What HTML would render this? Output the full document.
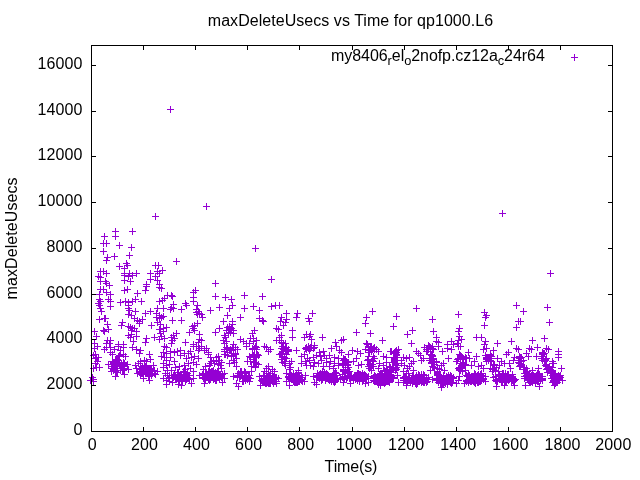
<!DOCTYPE html>
<html><head><meta charset="utf-8"><title>maxDeleteUsecs vs Time</title>
<style>
html,body{margin:0;padding:0;background:#fff;}
body{width:640px;height:480px;overflow:hidden;}
svg{display:block;will-change:transform;}
text{font-family:"Liberation Sans",sans-serif;font-size:16px;fill:#000;}
</style></head><body>
<svg width="640" height="480" viewBox="0 0 640 480">
<rect width="640" height="480" fill="#fff"/>
<path d="M167.0 109.5h7M170.5 106.0v7M152.0 216.5h7M155.5 213.0v7M173.0 261.5h7M176.5 258.0v7M112.0 231.5h7M115.5 228.0v7M129.0 231.5h7M132.5 228.0v7M101.0 236.5h7M104.5 233.0v7M112.0 236.5h7M115.5 233.0v7M100.0 243.5h7M103.5 240.0v7M103.0 243.5h7M106.5 240.0v7M116.0 245.5h7M119.5 242.0v7M128.0 247.5h7M131.5 244.0v7M100.0 251.5h7M103.5 248.0v7M126.0 255.5h7M129.5 252.0v7M111.0 256.5h7M114.5 253.0v7M104.0 257.5h7M107.5 254.0v7M103.0 260.5h7M106.5 257.0v7M123.0 263.5h7M126.5 260.0v7M124.0 265.5h7M127.5 262.0v7M116.0 266.5h7M119.5 263.0v7M152.0 265.5h7M155.5 262.0v7M155.0 265.5h7M158.5 262.0v7M121.0 268.5h7M124.5 265.0v7M159.0 270.5h7M162.5 267.0v7M97.0 271.5h7M100.5 268.0v7M100.0 271.5h7M103.5 268.0v7M103.0 273.5h7M106.5 270.0v7M154.0 271.5h7M157.5 268.0v7M156.0 273.5h7M159.5 270.0v7M126.0 273.5h7M129.5 270.0v7M133.0 273.5h7M136.5 270.0v7M121.0 273.5h7M124.5 270.0v7M147.0 273.5h7M150.5 270.0v7M121.0 275.5h7M124.5 272.0v7M129.0 275.5h7M132.5 272.0v7M125.0 276.5h7M128.5 273.0v7M95.0 276.5h7M98.5 273.0v7M97.0 277.5h7M100.5 274.0v7M152.0 276.5h7M155.5 273.0v7M147.0 279.5h7M150.5 276.0v7M154.0 280.5h7M157.5 277.0v7M121.0 280.5h7M124.5 277.0v7M127.0 281.5h7M130.5 278.0v7M97.0 281.5h7M100.5 278.0v7M102.0 281.5h7M105.5 278.0v7M103.0 283.5h7M106.5 280.0v7M143.0 284.5h7M146.5 281.0v7M156.0 284.5h7M159.5 281.0v7M203.0 206.5h7M206.5 203.0v7M252.0 248.5h7M255.5 245.0v7M268.0 279.5h7M271.5 276.0v7M499.0 213.5h7M502.5 210.0v7M547.0 273.5h7M550.5 270.0v7M97.0 289.5h7M100.5 286.0v7M100.0 289.5h7M103.5 286.0v7M106.0 285.5h7M109.5 282.0v7M103.0 292.5h7M106.5 289.0v7M107.0 294.5h7M110.5 291.0v7M121.0 290.5h7M124.5 287.0v7M124.0 289.5h7M127.5 286.0v7M134.0 293.5h7M137.5 290.0v7M143.0 286.5h7M146.5 283.0v7M142.0 290.5h7M145.5 287.0v7M156.0 287.5h7M159.5 284.0v7M158.0 288.5h7M161.5 285.0v7M96.0 294.5h7M99.5 291.0v7M96.0 299.5h7M99.5 296.0v7M97.0 301.5h7M100.5 298.0v7M95.0 303.5h7M98.5 300.0v7M96.0 305.5h7M99.5 302.0v7M97.0 308.5h7M100.5 305.0v7M98.0 311.5h7M101.5 308.0v7M107.0 301.5h7M110.5 298.0v7M107.0 306.5h7M110.5 303.0v7M105.0 299.5h7M108.5 296.0v7M117.0 302.5h7M120.5 299.0v7M122.0 301.5h7M125.5 298.0v7M125.0 302.5h7M128.5 299.0v7M129.0 301.5h7M132.5 298.0v7M132.0 299.5h7M135.5 296.0v7M125.0 305.5h7M128.5 302.0v7M125.0 308.5h7M128.5 305.0v7M126.0 310.5h7M129.5 307.0v7M125.0 314.5h7M128.5 311.0v7M128.0 315.5h7M131.5 312.0v7M138.0 301.5h7M141.5 298.0v7M132.0 311.5h7M135.5 308.0v7M142.0 313.5h7M145.5 310.0v7M147.0 311.5h7M150.5 308.0v7M156.0 301.5h7M159.5 298.0v7M159.0 300.5h7M162.5 297.0v7M161.0 298.5h7M164.5 295.0v7M154.0 308.5h7M157.5 305.0v7M160.0 308.5h7M163.5 305.0v7M153.0 313.5h7M156.5 310.0v7M156.0 315.5h7M159.5 312.0v7M158.0 317.5h7M161.5 314.0v7M153.0 317.5h7M156.5 314.0v7M156.0 318.5h7M159.5 315.0v7M160.0 316.5h7M163.5 313.0v7M96.0 319.5h7M99.5 316.0v7M101.0 318.5h7M104.5 315.0v7M102.0 318.5h7M105.5 315.0v7M104.0 324.5h7M107.5 321.0v7M100.0 330.5h7M103.5 327.0v7M101.0 331.5h7M104.5 328.0v7M105.0 329.5h7M108.5 326.0v7M91.0 331.5h7M94.5 328.0v7M119.0 322.5h7M122.5 319.0v7M118.0 325.5h7M121.5 322.0v7M131.0 318.5h7M134.5 315.0v7M134.0 320.5h7M137.5 317.0v7M136.0 321.5h7M139.5 318.0v7M139.0 319.5h7M142.5 316.0v7M136.0 323.5h7M139.5 320.0v7M127.0 327.5h7M130.5 324.0v7M129.0 328.5h7M132.5 325.0v7M128.0 330.5h7M131.5 327.0v7M131.0 328.5h7M134.5 325.0v7M125.0 326.5h7M128.5 323.0v7M148.0 325.5h7M151.5 322.0v7M154.0 322.5h7M157.5 319.0v7M157.0 324.5h7M160.5 321.0v7M156.0 329.5h7M159.5 326.0v7M160.0 328.5h7M163.5 325.0v7M163.0 327.5h7M166.5 324.0v7M93.0 336.5h7M96.5 333.0v7M91.0 343.5h7M94.5 340.0v7M104.0 340.5h7M107.5 337.0v7M107.0 340.5h7M110.5 337.0v7M103.0 343.5h7M106.5 340.0v7M106.0 343.5h7M109.5 340.0v7M125.0 335.5h7M128.5 332.0v7M128.0 334.5h7M131.5 331.0v7M127.0 337.5h7M130.5 334.0v7M133.0 331.5h7M136.5 328.0v7M133.0 336.5h7M136.5 333.0v7M130.0 341.5h7M133.5 338.0v7M143.0 338.5h7M146.5 335.0v7M142.0 342.5h7M145.5 339.0v7M151.0 337.5h7M154.5 334.0v7M157.0 333.5h7M160.5 330.0v7M160.0 331.5h7M163.5 328.0v7M158.0 336.5h7M161.5 333.0v7M156.0 339.5h7M159.5 336.0v7M161.0 338.5h7M164.5 335.0v7M120.0 344.5h7M123.5 341.0v7M115.0 344.5h7M118.5 341.0v7M164.0 295.5h7M167.5 292.0v7M212.0 283.5h7M215.5 280.0v7M192.0 290.5h7M195.5 287.0v7M190.0 292.5h7M193.5 289.0v7M190.0 297.5h7M193.5 294.0v7M190.0 301.5h7M193.5 298.0v7M168.0 295.5h7M171.5 292.0v7M169.0 296.5h7M172.5 293.0v7M212.0 296.5h7M215.5 293.0v7M222.0 297.5h7M225.5 294.0v7M228.0 299.5h7M231.5 296.0v7M241.0 295.5h7M244.5 292.0v7M182.0 303.5h7M185.5 300.0v7M183.0 305.5h7M186.5 302.0v7M170.0 304.5h7M173.5 301.0v7M168.0 307.5h7M171.5 304.0v7M170.0 308.5h7M173.5 305.0v7M167.0 309.5h7M170.5 306.0v7M178.0 309.5h7M181.5 306.0v7M194.0 305.5h7M197.5 302.0v7M193.0 309.5h7M196.5 306.0v7M195.0 311.5h7M198.5 308.0v7M196.0 313.5h7M199.5 310.0v7M194.0 314.5h7M197.5 311.0v7M198.0 314.5h7M201.5 311.0v7M193.0 312.5h7M196.5 309.0v7M199.0 317.5h7M202.5 314.0v7M207.0 310.5h7M210.5 307.0v7M216.0 307.5h7M219.5 304.0v7M226.0 308.5h7M229.5 305.0v7M229.0 305.5h7M232.5 302.0v7M241.0 308.5h7M244.5 305.0v7M224.0 315.5h7M227.5 312.0v7M237.0 317.5h7M240.5 314.0v7M169.0 320.5h7M172.5 317.0v7M178.0 320.5h7M181.5 317.0v7M220.0 321.5h7M223.5 318.0v7M229.0 321.5h7M232.5 318.0v7M229.0 324.5h7M232.5 321.0v7M194.0 323.5h7M197.5 320.0v7M191.0 325.5h7M194.5 322.0v7M189.0 326.5h7M192.5 323.0v7M190.0 328.5h7M193.5 325.0v7M191.0 330.5h7M194.5 327.0v7M186.0 332.5h7M189.5 329.0v7M196.0 334.5h7M199.5 331.0v7M216.0 328.5h7M219.5 325.0v7M212.0 332.5h7M215.5 329.0v7M224.0 327.5h7M227.5 324.0v7M226.0 326.5h7M229.5 323.0v7M228.0 328.5h7M231.5 325.0v7M226.0 329.5h7M229.5 326.0v7M223.0 330.5h7M226.5 327.0v7M230.0 330.5h7M233.5 327.0v7M227.0 332.5h7M230.5 329.0v7M225.0 333.5h7M228.5 330.0v7M230.0 333.5h7M233.5 330.0v7M221.0 335.5h7M224.5 332.0v7M222.0 337.5h7M225.5 334.0v7M220.0 340.5h7M223.5 337.0v7M223.0 341.5h7M226.5 338.0v7M221.0 343.5h7M224.5 340.0v7M173.0 333.5h7M176.5 330.0v7M170.0 335.5h7M173.5 332.0v7M168.0 337.5h7M171.5 334.0v7M171.0 338.5h7M174.5 335.0v7M169.0 340.5h7M172.5 337.0v7M168.0 343.5h7M171.5 340.0v7M182.0 342.5h7M185.5 339.0v7M196.0 339.5h7M199.5 336.0v7M198.0 340.5h7M201.5 337.0v7M195.0 342.5h7M198.5 339.0v7M237.0 339.5h7M240.5 336.0v7M240.0 341.5h7M243.5 338.0v7M243.0 343.5h7M246.5 340.0v7M230.0 344.5h7M233.5 341.0v7M190.0 344.5h7M193.5 341.0v7M259.0 296.5h7M262.5 293.0v7M250.0 306.5h7M253.5 303.0v7M256.0 310.5h7M259.5 307.0v7M268.0 306.5h7M271.5 303.0v7M272.0 305.5h7M275.5 302.0v7M276.0 305.5h7M279.5 302.0v7M283.0 313.5h7M286.5 310.0v7M294.0 313.5h7M297.5 310.0v7M293.0 317.5h7M296.5 314.0v7M309.0 313.5h7M312.5 310.0v7M256.0 318.5h7M259.5 315.0v7M259.0 320.5h7M262.5 317.0v7M260.0 321.5h7M263.5 318.0v7M278.0 317.5h7M281.5 314.0v7M283.0 319.5h7M286.5 316.0v7M277.0 321.5h7M280.5 318.0v7M282.0 322.5h7M285.5 319.0v7M280.0 325.5h7M283.5 322.0v7M305.0 318.5h7M308.5 315.0v7M306.0 321.5h7M309.5 318.0v7M273.0 328.5h7M276.5 325.0v7M275.0 329.5h7M278.5 326.0v7M289.0 330.5h7M292.5 327.0v7M289.0 337.5h7M292.5 334.0v7M251.0 330.5h7M254.5 327.0v7M249.0 333.5h7M252.5 330.0v7M247.0 338.5h7M250.5 335.0v7M250.0 338.5h7M253.5 335.0v7M253.0 340.5h7M256.5 337.0v7M250.0 341.5h7M253.5 338.0v7M246.0 343.5h7M249.5 340.0v7M278.0 335.5h7M281.5 332.0v7M276.0 337.5h7M279.5 334.0v7M273.0 340.5h7M276.5 337.0v7M276.0 340.5h7M279.5 337.0v7M278.0 342.5h7M281.5 339.0v7M280.0 343.5h7M283.5 340.0v7M282.0 343.5h7M285.5 340.0v7M303.0 334.5h7M306.5 331.0v7M307.0 334.5h7M310.5 331.0v7M301.0 337.5h7M304.5 334.0v7M306.0 336.5h7M309.5 333.0v7M308.0 339.5h7M311.5 336.0v7M319.0 337.5h7M322.5 334.0v7M369.0 311.5h7M372.5 308.0v7M363.0 317.5h7M366.5 314.0v7M362.0 323.5h7M365.5 320.0v7M393.0 316.5h7M396.5 313.0v7M390.0 326.5h7M393.5 323.0v7M353.0 332.5h7M356.5 329.0v7M367.0 333.5h7M370.5 330.0v7M404.0 334.5h7M407.5 331.0v7M379.0 340.5h7M382.5 337.0v7M340.0 339.5h7M343.5 336.0v7M338.0 340.5h7M341.5 337.0v7M332.0 342.5h7M335.5 339.0v7M363.0 343.5h7M366.5 340.0v7M364.0 344.5h7M367.5 341.0v7M413.0 308.5h7M416.5 305.0v7M429.0 319.5h7M432.5 316.0v7M455.0 314.5h7M458.5 311.0v7M481.0 312.5h7M484.5 309.0v7M483.0 315.5h7M486.5 312.0v7M482.0 317.5h7M485.5 314.0v7M481.0 325.5h7M484.5 322.0v7M409.0 330.5h7M412.5 327.0v7M430.0 331.5h7M433.5 328.0v7M456.0 328.5h7M459.5 325.0v7M455.0 331.5h7M458.5 328.0v7M433.0 337.5h7M436.5 334.0v7M433.0 341.5h7M436.5 338.0v7M435.0 342.5h7M438.5 339.0v7M456.0 336.5h7M459.5 333.0v7M458.0 339.5h7M461.5 336.0v7M455.0 340.5h7M458.5 337.0v7M454.0 343.5h7M457.5 340.0v7M448.0 341.5h7M451.5 338.0v7M444.0 344.5h7M447.5 341.0v7M450.0 344.5h7M453.5 341.0v7M473.0 337.5h7M476.5 334.0v7M478.0 337.5h7M481.5 334.0v7M482.0 341.5h7M485.5 338.0v7M481.0 344.5h7M484.5 341.0v7M408.0 343.5h7M411.5 340.0v7M513.0 305.5h7M516.5 302.0v7M520.0 311.5h7M523.5 308.0v7M544.0 307.5h7M547.5 304.0v7M515.0 321.5h7M518.5 318.0v7M517.0 321.5h7M520.5 318.0v7M513.0 327.5h7M516.5 324.0v7M546.0 322.5h7M549.5 319.0v7M541.0 338.5h7M544.5 335.0v7M529.0 340.5h7M532.5 337.0v7M508.0 341.5h7M511.5 338.0v7M494.0 343.5h7M497.5 340.0v7M94.0 346.5h7M97.5 343.0v7M91.0 348.5h7M94.5 345.0v7M92.0 354.5h7M95.5 351.0v7M90.0 355.5h7M93.5 352.0v7M93.0 357.5h7M96.5 354.0v7M95.0 357.5h7M98.5 354.0v7M92.0 358.5h7M95.5 355.0v7M94.0 361.5h7M97.5 358.0v7M92.0 363.5h7M95.5 360.0v7M96.0 367.5h7M99.5 364.0v7M93.0 367.5h7M96.5 364.0v7M90.0 368.5h7M93.5 365.0v7M89.0 377.5h7M92.5 374.0v7M90.0 379.5h7M93.5 376.0v7M87.0 380.5h7M90.5 377.0v7M90.0 381.5h7M93.5 378.0v7M103.0 347.5h7M106.5 344.0v7M101.0 349.5h7M104.5 346.0v7M107.0 347.5h7M110.5 344.0v7M111.0 349.5h7M114.5 346.0v7M115.0 346.5h7M118.5 343.0v7M120.0 347.5h7M123.5 344.0v7M117.0 350.5h7M120.5 347.0v7M107.0 352.5h7M110.5 349.0v7M109.0 354.5h7M112.5 351.0v7M120.0 354.5h7M123.5 351.0v7M116.0 355.5h7M119.5 352.0v7M129.0 347.5h7M132.5 344.0v7M133.0 349.5h7M136.5 346.0v7M137.0 350.5h7M140.5 347.0v7M136.0 353.5h7M139.5 350.0v7M146.0 354.5h7M149.5 351.0v7M147.0 359.5h7M150.5 356.0v7M141.0 360.5h7M144.5 357.0v7M143.0 361.5h7M146.5 358.0v7M161.0 346.5h7M164.5 343.0v7M163.0 347.5h7M166.5 344.0v7M160.0 352.5h7M163.5 349.0v7M163.0 353.5h7M166.5 350.0v7M158.0 356.5h7M161.5 353.0v7M161.0 357.5h7M164.5 354.0v7M163.0 360.5h7M166.5 357.0v7M160.0 363.5h7M163.5 360.0v7M163.0 365.5h7M166.5 362.0v7M160.0 367.5h7M163.5 364.0v7M164.0 370.5h7M167.5 367.0v7M162.0 373.5h7M165.5 370.0v7M160.0 378.5h7M163.5 375.0v7M163.0 380.5h7M166.5 377.0v7M164.0 375.5h7M167.5 372.0v7M163.0 384.5h7M166.5 381.0v7M105.0 364.5h7M108.5 361.0v7M122.0 356.5h7M125.5 353.0v7M125.0 369.5h7M128.5 366.0v7M112.0 376.5h7M115.5 373.0v7M121.0 374.5h7M124.5 371.0v7M124.0 364.5h7M127.5 361.0v7M108.0 371.5h7M111.5 368.0v7M115.0 356.5h7M118.5 353.0v7M133.0 368.5h7M136.5 365.0v7M132.0 365.5h7M135.5 362.0v7M140.0 378.5h7M143.5 375.0v7M146.0 380.5h7M149.5 377.0v7M152.0 374.5h7M155.5 371.0v7M154.0 371.5h7M157.5 368.0v7M137.0 361.5h7M140.5 358.0v7M134.0 373.5h7M137.5 370.0v7M150.0 365.5h7M153.5 362.0v7M135.0 363.5h7M138.5 360.0v7M120.0 365.5h7M123.5 362.0v7M121.0 366.5h7M124.5 363.0v7M110.0 370.5h7M113.5 367.0v7M117.0 368.5h7M120.5 365.0v7M120.0 369.5h7M123.5 366.0v7M108.0 368.5h7M111.5 365.0v7M112.0 364.5h7M115.5 361.0v7M111.0 369.5h7M114.5 366.0v7M117.0 370.5h7M120.5 367.0v7M113.0 362.5h7M116.5 359.0v7M113.0 361.5h7M116.5 358.0v7M114.0 365.5h7M117.5 362.0v7M121.0 363.5h7M124.5 360.0v7M111.0 363.5h7M114.5 360.0v7M114.0 360.5h7M117.5 357.0v7M114.0 370.5h7M117.5 367.0v7M112.0 360.5h7M115.5 357.0v7M119.0 370.5h7M122.5 367.0v7M108.0 366.5h7M111.5 363.0v7M114.0 372.5h7M117.5 369.0v7M118.0 365.5h7M121.5 362.0v7M116.0 364.5h7M119.5 361.0v7M113.0 363.5h7M116.5 360.0v7M110.0 369.5h7M113.5 366.0v7M109.0 361.5h7M112.5 358.0v7M120.0 362.5h7M123.5 359.0v7M118.0 363.5h7M121.5 360.0v7M116.0 365.5h7M119.5 362.0v7M114.0 359.5h7M117.5 356.0v7M109.0 366.5h7M112.5 363.0v7M121.0 368.5h7M124.5 365.0v7M113.0 360.5h7M116.5 357.0v7M115.0 363.5h7M118.5 360.0v7M110.0 363.5h7M113.5 360.0v7M116.0 363.5h7M119.5 360.0v7M114.0 364.5h7M117.5 361.0v7M113.0 370.5h7M116.5 367.0v7M120.0 370.5h7M123.5 367.0v7M110.0 362.5h7M113.5 359.0v7M113.0 372.5h7M116.5 369.0v7M112.0 371.5h7M115.5 368.0v7M139.0 367.5h7M142.5 364.0v7M142.0 366.5h7M145.5 363.0v7M148.0 369.5h7M151.5 366.0v7M146.0 369.5h7M149.5 366.0v7M143.0 369.5h7M146.5 366.0v7M137.0 371.5h7M140.5 368.0v7M142.0 371.5h7M145.5 368.0v7M143.0 367.5h7M146.5 364.0v7M139.0 373.5h7M142.5 370.0v7M146.0 375.5h7M149.5 372.0v7M144.0 370.5h7M147.5 367.0v7M139.0 368.5h7M142.5 365.0v7M146.0 371.5h7M149.5 368.0v7M149.0 371.5h7M152.5 368.0v7M140.0 373.5h7M143.5 370.0v7M137.0 372.5h7M140.5 369.0v7M148.0 373.5h7M151.5 370.0v7M139.0 366.5h7M142.5 363.0v7M143.0 371.5h7M146.5 368.0v7M137.0 368.5h7M140.5 365.0v7M145.0 376.5h7M148.5 373.0v7M137.0 374.5h7M140.5 371.0v7M147.0 369.5h7M150.5 366.0v7M144.0 373.5h7M147.5 370.0v7M146.0 368.5h7M149.5 365.0v7M138.0 373.5h7M141.5 370.0v7M139.0 369.5h7M142.5 366.0v7M141.0 369.5h7M144.5 366.0v7M143.0 365.5h7M146.5 362.0v7M146.0 373.5h7M149.5 370.0v7M139.0 371.5h7M142.5 368.0v7M147.0 370.5h7M150.5 367.0v7M151.0 370.5h7M154.5 367.0v7M151.0 373.5h7M154.5 370.0v7M145.0 371.5h7M148.5 368.0v7M137.0 369.5h7M140.5 366.0v7M140.0 374.5h7M143.5 371.0v7M137.0 373.5h7M140.5 370.0v7M136.0 372.5h7M139.5 369.0v7M148.0 375.5h7M151.5 372.0v7M141.0 365.5h7M144.5 362.0v7M146.0 376.5h7M149.5 373.0v7M147.0 373.5h7M150.5 370.0v7M146.0 370.5h7M149.5 367.0v7M142.0 373.5h7M145.5 370.0v7M140.0 369.5h7M143.5 366.0v7M146.0 372.5h7M149.5 369.0v7M140.0 368.5h7M143.5 365.0v7M185.0 375.5h7M188.5 372.0v7M171.0 376.5h7M174.5 373.0v7M178.0 376.5h7M181.5 373.0v7M176.0 375.5h7M179.5 372.0v7M177.0 378.5h7M180.5 375.0v7M183.0 379.5h7M186.5 376.0v7M172.0 378.5h7M175.5 375.0v7M179.0 377.5h7M182.5 374.0v7M177.0 377.5h7M180.5 374.0v7M181.0 374.5h7M184.5 371.0v7M175.0 372.5h7M178.5 369.0v7M184.0 373.5h7M187.5 370.0v7M174.0 372.5h7M177.5 369.0v7M170.0 375.5h7M173.5 372.0v7M184.0 377.5h7M187.5 374.0v7M184.0 378.5h7M187.5 375.0v7M185.0 378.5h7M188.5 375.0v7M170.0 377.5h7M173.5 374.0v7M183.0 376.5h7M186.5 373.0v7M182.0 379.5h7M185.5 376.0v7M176.0 380.5h7M179.5 377.0v7M179.0 381.5h7M182.5 378.0v7M177.0 375.5h7M180.5 372.0v7M181.0 372.5h7M184.5 369.0v7M177.0 374.5h7M180.5 371.0v7M172.0 376.5h7M175.5 373.0v7M180.0 371.5h7M183.5 368.0v7M186.0 379.5h7M189.5 376.0v7M178.0 377.5h7M181.5 374.0v7M179.0 380.5h7M182.5 377.0v7M182.0 381.5h7M185.5 378.0v7M178.0 374.5h7M181.5 371.0v7M178.0 378.5h7M181.5 375.0v7M174.0 377.5h7M177.5 374.0v7M186.0 375.5h7M189.5 372.0v7M179.0 379.5h7M182.5 376.0v7M174.0 378.5h7M177.5 375.0v7M173.0 377.5h7M176.5 374.0v7M176.0 381.5h7M179.5 378.0v7M173.0 379.5h7M176.5 376.0v7M182.0 380.5h7M185.5 377.0v7M182.0 376.5h7M185.5 373.0v7M171.0 374.5h7M174.5 371.0v7M166.0 375.5h7M169.5 372.0v7M165.0 378.5h7M168.5 375.0v7M166.0 381.5h7M169.5 378.0v7M188.0 383.5h7M191.5 380.0v7M178.0 385.5h7M181.5 382.0v7M169.0 382.5h7M172.5 379.0v7M175.0 384.5h7M178.5 381.0v7M190.0 378.5h7M193.5 375.0v7M167.0 351.5h7M170.5 348.0v7M171.0 352.5h7M174.5 349.0v7M174.0 351.5h7M177.5 348.0v7M177.0 350.5h7M180.5 347.0v7M177.0 355.5h7M180.5 352.0v7M181.0 353.5h7M184.5 350.0v7M185.0 353.5h7M188.5 350.0v7M187.0 351.5h7M190.5 348.0v7M183.0 358.5h7M186.5 355.0v7M188.0 357.5h7M191.5 354.0v7M191.0 356.5h7M194.5 353.0v7M167.0 357.5h7M170.5 354.0v7M166.0 364.5h7M169.5 361.0v7M172.0 367.5h7M175.5 364.0v7M176.0 366.5h7M179.5 363.0v7M181.0 365.5h7M184.5 362.0v7M185.0 363.5h7M188.5 360.0v7M190.0 362.5h7M193.5 359.0v7M193.0 364.5h7M196.5 361.0v7M187.0 368.5h7M190.5 365.0v7M190.0 371.5h7M193.5 368.0v7M182.0 369.5h7M185.5 366.0v7M195.0 358.5h7M198.5 355.0v7M171.0 361.5h7M174.5 358.0v7M168.0 370.5h7M171.5 367.0v7M190.0 346.5h7M193.5 343.0v7M193.0 346.5h7M196.5 343.0v7M196.0 348.5h7M199.5 345.0v7M198.0 346.5h7M201.5 343.0v7M201.0 350.5h7M204.5 347.0v7M203.0 348.5h7M206.5 345.0v7M195.0 350.5h7M198.5 347.0v7M205.0 352.5h7M208.5 349.0v7M205.0 354.5h7M208.5 351.0v7M207.0 357.5h7M210.5 354.0v7M208.0 361.5h7M211.5 358.0v7M210.0 360.5h7M213.5 357.0v7M213.0 357.5h7M216.5 354.0v7M215.0 356.5h7M218.5 353.0v7M213.0 361.5h7M216.5 358.0v7M216.0 360.5h7M219.5 357.0v7M211.0 363.5h7M214.5 360.0v7M215.0 364.5h7M218.5 361.0v7M217.0 365.5h7M220.5 362.0v7M207.0 363.5h7M210.5 360.0v7M206.0 365.5h7M209.5 362.0v7M218.0 362.5h7M221.5 359.0v7M196.0 375.5h7M199.5 372.0v7M201.0 383.5h7M204.5 380.0v7M219.0 382.5h7M222.5 379.0v7M221.0 378.5h7M224.5 375.0v7M221.0 373.5h7M224.5 370.0v7M200.0 369.5h7M203.5 366.0v7M202.0 366.5h7M205.5 363.0v7M218.0 368.5h7M221.5 365.0v7M233.0 366.5h7M236.5 363.0v7M231.0 362.5h7M234.5 359.0v7M230.0 360.5h7M233.5 357.0v7M226.0 363.5h7M229.5 360.0v7M228.0 356.5h7M231.5 353.0v7M233.0 358.5h7M236.5 355.0v7M243.0 346.5h7M246.5 343.0v7M244.0 361.5h7M247.5 358.0v7M218.0 377.5h7M221.5 374.0v7M205.0 379.5h7M208.5 376.0v7M207.0 379.5h7M210.5 376.0v7M210.0 373.5h7M213.5 370.0v7M202.0 374.5h7M205.5 371.0v7M202.0 379.5h7M205.5 376.0v7M200.0 377.5h7M203.5 374.0v7M203.0 373.5h7M206.5 370.0v7M207.0 377.5h7M210.5 374.0v7M206.0 379.5h7M209.5 376.0v7M208.0 372.5h7M211.5 369.0v7M211.0 378.5h7M214.5 375.0v7M203.0 374.5h7M206.5 371.0v7M209.0 373.5h7M212.5 370.0v7M211.0 375.5h7M214.5 372.0v7M216.0 374.5h7M219.5 371.0v7M200.0 375.5h7M203.5 372.0v7M211.0 377.5h7M214.5 374.0v7M210.0 379.5h7M213.5 376.0v7M207.0 372.5h7M210.5 369.0v7M207.0 374.5h7M210.5 371.0v7M212.0 378.5h7M215.5 375.0v7M206.0 371.5h7M209.5 368.0v7M216.0 376.5h7M219.5 373.0v7M199.0 374.5h7M202.5 371.0v7M210.0 370.5h7M213.5 367.0v7M215.0 377.5h7M218.5 374.0v7M206.0 380.5h7M209.5 377.0v7M208.0 373.5h7M211.5 370.0v7M205.0 376.5h7M208.5 373.0v7M212.0 380.5h7M215.5 377.0v7M214.0 371.5h7M217.5 368.0v7M214.0 376.5h7M217.5 373.0v7M217.0 375.5h7M220.5 372.0v7M215.0 371.5h7M218.5 368.0v7M204.0 375.5h7M207.5 372.0v7M209.0 374.5h7M212.5 371.0v7M205.0 371.5h7M208.5 368.0v7M213.0 379.5h7M216.5 376.0v7M219.0 374.5h7M222.5 371.0v7M205.0 378.5h7M208.5 375.0v7M201.0 378.5h7M204.5 375.0v7M213.0 380.5h7M216.5 377.0v7M200.0 373.5h7M203.5 370.0v7M208.0 371.5h7M211.5 368.0v7M212.0 372.5h7M215.5 369.0v7M203.0 377.5h7M206.5 374.0v7M213.0 378.5h7M216.5 375.0v7M202.0 373.5h7M205.5 370.0v7M200.0 378.5h7M203.5 375.0v7M216.0 378.5h7M219.5 375.0v7M211.0 374.5h7M214.5 371.0v7M217.0 376.5h7M220.5 373.0v7M216.0 377.5h7M219.5 374.0v7M209.0 371.5h7M212.5 368.0v7M224.0 355.5h7M227.5 352.0v7M230.0 347.5h7M233.5 344.0v7M222.0 354.5h7M225.5 351.0v7M227.0 349.5h7M230.5 346.0v7M221.0 354.5h7M224.5 351.0v7M234.0 349.5h7M237.5 346.0v7M230.0 353.5h7M233.5 350.0v7M228.0 350.5h7M231.5 347.0v7M232.0 354.5h7M235.5 351.0v7M232.0 353.5h7M235.5 350.0v7M224.0 348.5h7M227.5 345.0v7M228.0 355.5h7M231.5 352.0v7M221.0 349.5h7M224.5 346.0v7M223.0 347.5h7M226.5 344.0v7M226.0 350.5h7M229.5 347.0v7M232.0 347.5h7M235.5 344.0v7M229.0 347.5h7M232.5 344.0v7M224.0 352.5h7M227.5 349.0v7M221.0 351.5h7M224.5 348.0v7M227.0 350.5h7M230.5 347.0v7M235.0 373.5h7M238.5 370.0v7M242.0 372.5h7M245.5 369.0v7M239.0 378.5h7M242.5 375.0v7M236.0 377.5h7M239.5 374.0v7M242.0 378.5h7M245.5 375.0v7M236.0 376.5h7M239.5 373.0v7M240.0 381.5h7M243.5 378.0v7M237.0 371.5h7M240.5 368.0v7M242.0 376.5h7M245.5 373.0v7M237.0 375.5h7M240.5 372.0v7M241.0 373.5h7M244.5 370.0v7M239.0 377.5h7M242.5 374.0v7M242.0 373.5h7M245.5 370.0v7M243.0 377.5h7M246.5 374.0v7M243.0 375.5h7M246.5 372.0v7M239.0 381.5h7M242.5 378.0v7M241.0 371.5h7M244.5 368.0v7M245.0 378.5h7M248.5 375.0v7M237.0 376.5h7M240.5 373.0v7M240.0 378.5h7M243.5 375.0v7M234.0 377.5h7M237.5 374.0v7M234.0 376.5h7M237.5 373.0v7M244.0 379.5h7M247.5 376.0v7M242.0 380.5h7M245.5 377.0v7M238.0 372.5h7M241.5 369.0v7M245.0 377.5h7M248.5 374.0v7M238.0 371.5h7M241.5 368.0v7M234.0 375.5h7M237.5 372.0v7M241.0 377.5h7M244.5 374.0v7M230.0 376.5h7M233.5 373.0v7M233.0 383.5h7M236.5 380.0v7M235.0 386.5h7M238.5 383.0v7M250.0 355.5h7M253.5 352.0v7M252.0 362.5h7M255.5 359.0v7M246.0 356.5h7M249.5 353.0v7M248.0 366.5h7M251.5 363.0v7M253.0 347.5h7M256.5 344.0v7M250.0 361.5h7M253.5 358.0v7M255.0 364.5h7M258.5 361.0v7M250.0 362.5h7M253.5 359.0v7M250.0 359.5h7M253.5 356.0v7M251.0 355.5h7M254.5 352.0v7M252.0 346.5h7M255.5 343.0v7M247.0 361.5h7M250.5 358.0v7M252.0 366.5h7M255.5 363.0v7M251.0 362.5h7M254.5 359.0v7M253.0 363.5h7M256.5 360.0v7M253.0 349.5h7M256.5 346.0v7M249.0 354.5h7M252.5 351.0v7M249.0 349.5h7M252.5 346.0v7M253.0 356.5h7M256.5 353.0v7M252.0 357.5h7M255.5 354.0v7M255.0 355.5h7M258.5 352.0v7M254.0 354.5h7M257.5 351.0v7M251.0 357.5h7M254.5 354.0v7M249.0 348.5h7M252.5 345.0v7M253.0 357.5h7M256.5 354.0v7M247.0 357.5h7M250.5 354.0v7M251.0 348.5h7M254.5 345.0v7M252.0 367.5h7M255.5 364.0v7M246.0 375.5h7M249.5 372.0v7M247.0 378.5h7M250.5 375.0v7M246.0 381.5h7M249.5 378.0v7M248.0 371.5h7M251.5 368.0v7M263.0 347.5h7M266.5 344.0v7M267.0 349.5h7M270.5 346.0v7M265.0 351.5h7M268.5 348.0v7M261.0 346.5h7M264.5 343.0v7M265.0 366.5h7M268.5 363.0v7M263.0 368.5h7M266.5 365.0v7M269.0 369.5h7M272.5 366.0v7M261.0 371.5h7M264.5 368.0v7M271.0 371.5h7M274.5 368.0v7M267.0 373.5h7M270.5 370.0v7M260.0 375.5h7M263.5 372.0v7M256.0 376.5h7M259.5 373.0v7M275.0 378.5h7M278.5 375.0v7M273.0 383.5h7M276.5 380.0v7M257.0 385.5h7M260.5 382.0v7M293.0 350.5h7M296.5 347.0v7M288.0 361.5h7M291.5 358.0v7M295.0 370.5h7M298.5 367.0v7M283.0 373.5h7M286.5 370.0v7M302.0 375.5h7M305.5 372.0v7M301.0 381.5h7M304.5 378.0v7M286.0 385.5h7M289.5 382.0v7M283.0 381.5h7M286.5 378.0v7M298.0 356.5h7M301.5 353.0v7M301.0 354.5h7M304.5 351.0v7M304.0 358.5h7M307.5 355.0v7M298.0 363.5h7M301.5 360.0v7M302.0 361.5h7M305.5 358.0v7M306.0 360.5h7M309.5 357.0v7M310.0 357.5h7M313.5 354.0v7M313.0 355.5h7M316.5 352.0v7M316.0 352.5h7M319.5 349.0v7M320.0 351.5h7M323.5 348.0v7M321.0 355.5h7M324.5 352.0v7M323.0 358.5h7M326.5 355.0v7M318.0 360.5h7M321.5 357.0v7M315.0 363.5h7M318.5 360.0v7M311.0 362.5h7M314.5 359.0v7M307.0 365.5h7M310.5 362.0v7M310.0 366.5h7M313.5 363.0v7M303.0 365.5h7M306.5 362.0v7M320.0 366.5h7M323.5 363.0v7M323.0 362.5h7M326.5 359.0v7M317.0 356.5h7M320.5 353.0v7M310.0 376.5h7M313.5 373.0v7M311.0 382.5h7M314.5 379.0v7M313.0 384.5h7M316.5 381.0v7M263.0 381.5h7M266.5 378.0v7M267.0 382.5h7M270.5 379.0v7M263.0 379.5h7M266.5 376.0v7M267.0 383.5h7M270.5 380.0v7M269.0 381.5h7M272.5 378.0v7M263.0 375.5h7M266.5 372.0v7M263.0 376.5h7M266.5 373.0v7M265.0 373.5h7M268.5 370.0v7M259.0 381.5h7M262.5 378.0v7M261.0 375.5h7M264.5 372.0v7M264.0 376.5h7M267.5 373.0v7M260.0 378.5h7M263.5 375.0v7M265.0 378.5h7M268.5 375.0v7M273.0 377.5h7M276.5 374.0v7M266.0 376.5h7M269.5 373.0v7M263.0 383.5h7M266.5 380.0v7M271.0 381.5h7M274.5 378.0v7M258.0 380.5h7M261.5 377.0v7M269.0 375.5h7M272.5 372.0v7M265.0 376.5h7M268.5 373.0v7M264.0 382.5h7M267.5 379.0v7M267.0 376.5h7M270.5 373.0v7M271.0 379.5h7M274.5 376.0v7M262.0 383.5h7M265.5 380.0v7M267.0 380.5h7M270.5 377.0v7M261.0 382.5h7M264.5 379.0v7M260.0 381.5h7M263.5 378.0v7M272.0 379.5h7M275.5 376.0v7M270.0 383.5h7M273.5 380.0v7M260.0 379.5h7M263.5 376.0v7M261.0 381.5h7M264.5 378.0v7M266.0 383.5h7M269.5 380.0v7M265.0 383.5h7M268.5 380.0v7M272.0 381.5h7M275.5 378.0v7M267.0 381.5h7M270.5 378.0v7M270.0 380.5h7M273.5 377.0v7M266.0 377.5h7M269.5 374.0v7M263.0 377.5h7M266.5 374.0v7M267.0 377.5h7M270.5 374.0v7M263.0 382.5h7M266.5 379.0v7M273.0 381.5h7M276.5 378.0v7M266.0 379.5h7M269.5 376.0v7M273.0 378.5h7M276.5 375.0v7M272.0 377.5h7M275.5 374.0v7M266.0 382.5h7M269.5 379.0v7M266.0 375.5h7M269.5 372.0v7M270.0 377.5h7M273.5 374.0v7M283.0 347.5h7M286.5 344.0v7M282.0 351.5h7M285.5 348.0v7M280.0 349.5h7M283.5 346.0v7M279.0 351.5h7M282.5 348.0v7M282.0 349.5h7M285.5 346.0v7M280.0 348.5h7M283.5 345.0v7M284.0 350.5h7M287.5 347.0v7M278.0 348.5h7M281.5 345.0v7M279.0 346.5h7M282.5 343.0v7M285.0 350.5h7M288.5 347.0v7M285.0 351.5h7M288.5 348.0v7M285.0 349.5h7M288.5 346.0v7M278.0 359.5h7M281.5 356.0v7M276.0 354.5h7M279.5 351.0v7M279.0 357.5h7M282.5 354.0v7M281.0 358.5h7M284.5 355.0v7M279.0 362.5h7M282.5 359.0v7M283.0 358.5h7M286.5 355.0v7M282.0 361.5h7M285.5 358.0v7M279.0 359.5h7M282.5 356.0v7M286.0 369.5h7M289.5 366.0v7M283.0 354.5h7M286.5 351.0v7M277.0 354.5h7M280.5 351.0v7M279.0 356.5h7M282.5 353.0v7M286.0 363.5h7M289.5 360.0v7M279.0 354.5h7M282.5 351.0v7M287.0 367.5h7M290.5 364.0v7M282.0 365.5h7M285.5 362.0v7M281.0 357.5h7M284.5 354.0v7M281.0 363.5h7M284.5 360.0v7M278.0 353.5h7M281.5 350.0v7M299.0 377.5h7M302.5 374.0v7M290.0 374.5h7M293.5 371.0v7M290.0 376.5h7M293.5 373.0v7M287.0 374.5h7M290.5 371.0v7M285.0 376.5h7M288.5 373.0v7M295.0 378.5h7M298.5 375.0v7M294.0 375.5h7M297.5 372.0v7M294.0 379.5h7M297.5 376.0v7M290.0 378.5h7M293.5 375.0v7M295.0 376.5h7M298.5 373.0v7M294.0 382.5h7M297.5 379.0v7M299.0 379.5h7M302.5 376.0v7M289.0 377.5h7M292.5 374.0v7M294.0 378.5h7M297.5 375.0v7M293.0 379.5h7M296.5 376.0v7M296.0 375.5h7M299.5 372.0v7M294.0 380.5h7M297.5 377.0v7M298.0 377.5h7M301.5 374.0v7M295.0 377.5h7M298.5 374.0v7M295.0 372.5h7M298.5 369.0v7M286.0 378.5h7M289.5 375.0v7M291.0 378.5h7M294.5 375.0v7M298.0 375.5h7M301.5 372.0v7M299.0 381.5h7M302.5 378.0v7M295.0 381.5h7M298.5 378.0v7M288.0 378.5h7M291.5 375.0v7M288.0 375.5h7M291.5 372.0v7M295.0 373.5h7M298.5 370.0v7M289.0 376.5h7M292.5 373.0v7M293.0 381.5h7M296.5 378.0v7M290.0 373.5h7M293.5 370.0v7M293.0 376.5h7M296.5 373.0v7M293.0 382.5h7M296.5 379.0v7M296.0 381.5h7M299.5 378.0v7M298.0 380.5h7M301.5 377.0v7M296.0 377.5h7M299.5 374.0v7M294.0 381.5h7M297.5 378.0v7M285.0 377.5h7M288.5 374.0v7M286.0 379.5h7M289.5 376.0v7M290.0 381.5h7M293.5 378.0v7M292.0 382.5h7M295.5 379.0v7M291.0 380.5h7M294.5 377.0v7M291.0 382.5h7M294.5 379.0v7M293.0 373.5h7M296.5 370.0v7M287.0 378.5h7M290.5 375.0v7M308.0 347.5h7M311.5 344.0v7M305.0 346.5h7M308.5 343.0v7M310.0 348.5h7M313.5 345.0v7M303.0 347.5h7M306.5 344.0v7M311.0 345.5h7M314.5 342.0v7M307.0 347.5h7M310.5 344.0v7M302.0 348.5h7M305.5 345.0v7M305.0 348.5h7M308.5 345.0v7M308.0 345.5h7M311.5 342.0v7M311.0 347.5h7M314.5 344.0v7M303.0 349.5h7M306.5 346.0v7M306.0 350.5h7M309.5 347.0v7M307.0 348.5h7M310.5 345.0v7M319.0 379.5h7M322.5 376.0v7M324.0 374.5h7M327.5 371.0v7M321.0 372.5h7M324.5 369.0v7M321.0 374.5h7M324.5 371.0v7M323.0 378.5h7M326.5 375.0v7M319.0 376.5h7M322.5 373.0v7M317.0 373.5h7M320.5 370.0v7M323.0 373.5h7M326.5 370.0v7M319.0 372.5h7M322.5 369.0v7M319.0 377.5h7M322.5 374.0v7M314.0 377.5h7M317.5 374.0v7M316.0 378.5h7M319.5 375.0v7M319.0 371.5h7M322.5 368.0v7M324.0 378.5h7M327.5 375.0v7M322.0 380.5h7M325.5 377.0v7M324.0 375.5h7M327.5 372.0v7M319.0 375.5h7M322.5 372.0v7M315.0 376.5h7M318.5 373.0v7M317.0 374.5h7M320.5 371.0v7M317.0 375.5h7M320.5 372.0v7M315.0 375.5h7M318.5 372.0v7M318.0 380.5h7M321.5 377.0v7M318.0 374.5h7M321.5 371.0v7M314.0 373.5h7M317.5 370.0v7M314.0 375.5h7M317.5 372.0v7M313.0 377.5h7M316.5 374.0v7M318.0 375.5h7M321.5 372.0v7M333.0 375.5h7M336.5 372.0v7M327.0 379.5h7M330.5 376.0v7M330.0 381.5h7M333.5 378.0v7M332.0 378.5h7M335.5 375.0v7M331.0 377.5h7M334.5 374.0v7M331.0 373.5h7M334.5 370.0v7M332.0 372.5h7M335.5 369.0v7M326.0 376.5h7M329.5 373.0v7M331.0 382.5h7M334.5 379.0v7M325.0 379.5h7M328.5 376.0v7M330.0 376.5h7M333.5 373.0v7M329.0 376.5h7M332.5 373.0v7M326.0 380.5h7M329.5 377.0v7M330.0 378.5h7M333.5 375.0v7M334.0 379.5h7M337.5 376.0v7M329.0 375.5h7M332.5 372.0v7M330.0 373.5h7M333.5 370.0v7M332.0 380.5h7M335.5 377.0v7M328.0 380.5h7M331.5 377.0v7M328.0 381.5h7M331.5 378.0v7M333.0 378.5h7M336.5 375.0v7M325.0 375.5h7M328.5 372.0v7M332.0 381.5h7M335.5 378.0v7M325.0 378.5h7M328.5 375.0v7M331.0 376.5h7M334.5 373.0v7M334.0 378.5h7M337.5 375.0v7M326.0 379.5h7M329.5 376.0v7M333.0 373.5h7M336.5 370.0v7M328.0 376.5h7M331.5 373.0v7M332.0 379.5h7M335.5 376.0v7M360.0 375.5h7M363.5 372.0v7M354.0 376.5h7M357.5 373.0v7M356.0 381.5h7M359.5 378.0v7M354.0 377.5h7M357.5 374.0v7M352.0 378.5h7M355.5 375.0v7M361.0 374.5h7M364.5 371.0v7M357.0 374.5h7M360.5 371.0v7M354.0 378.5h7M357.5 375.0v7M353.0 376.5h7M356.5 373.0v7M350.0 377.5h7M353.5 374.0v7M357.0 377.5h7M360.5 374.0v7M352.0 376.5h7M355.5 373.0v7M360.0 379.5h7M363.5 376.0v7M352.0 375.5h7M355.5 372.0v7M360.0 377.5h7M363.5 374.0v7M355.0 373.5h7M358.5 370.0v7M350.0 380.5h7M353.5 377.0v7M354.0 375.5h7M357.5 372.0v7M361.0 377.5h7M364.5 374.0v7M355.0 374.5h7M358.5 371.0v7M354.0 380.5h7M357.5 377.0v7M360.0 380.5h7M363.5 377.0v7M362.0 379.5h7M365.5 376.0v7M353.0 375.5h7M356.5 372.0v7M354.0 373.5h7M357.5 370.0v7M362.0 375.5h7M365.5 372.0v7M352.0 377.5h7M355.5 374.0v7M348.0 376.5h7M351.5 373.0v7M363.0 376.5h7M366.5 373.0v7M348.0 375.5h7M351.5 372.0v7M353.0 377.5h7M356.5 374.0v7M363.0 378.5h7M366.5 375.0v7M359.0 373.5h7M362.5 370.0v7M351.0 377.5h7M354.5 374.0v7M358.0 376.5h7M361.5 373.0v7M359.0 381.5h7M362.5 378.0v7M358.0 375.5h7M361.5 372.0v7M360.0 376.5h7M363.5 373.0v7M355.0 376.5h7M358.5 373.0v7M358.0 378.5h7M361.5 375.0v7M352.0 379.5h7M355.5 376.0v7M351.0 375.5h7M354.5 372.0v7M356.0 374.5h7M359.5 371.0v7M353.0 378.5h7M356.5 375.0v7M359.0 377.5h7M362.5 374.0v7M342.0 359.5h7M345.5 356.0v7M344.0 369.5h7M347.5 366.0v7M340.0 358.5h7M343.5 355.0v7M346.0 371.5h7M349.5 368.0v7M344.0 365.5h7M347.5 362.0v7M345.0 367.5h7M348.5 364.0v7M344.0 364.5h7M347.5 361.0v7M340.0 370.5h7M343.5 367.0v7M340.0 371.5h7M343.5 368.0v7M340.0 360.5h7M343.5 357.0v7M340.0 365.5h7M343.5 362.0v7M345.0 362.5h7M348.5 359.0v7M342.0 369.5h7M345.5 366.0v7M343.0 361.5h7M346.5 358.0v7M341.0 359.5h7M344.5 356.0v7M339.0 363.5h7M342.5 360.0v7M345.0 372.5h7M348.5 369.0v7M339.0 364.5h7M342.5 361.0v7M344.0 373.5h7M347.5 370.0v7M344.0 362.5h7M347.5 359.0v7M340.0 369.5h7M343.5 366.0v7M344.0 372.5h7M347.5 369.0v7M344.0 367.5h7M347.5 364.0v7M342.0 371.5h7M345.5 368.0v7M346.0 378.5h7M349.5 375.0v7M344.0 377.5h7M347.5 374.0v7M344.0 375.5h7M347.5 372.0v7M341.0 378.5h7M344.5 375.0v7M343.0 378.5h7M346.5 375.0v7M339.0 377.5h7M342.5 374.0v7M347.0 376.5h7M350.5 373.0v7M347.0 375.5h7M350.5 372.0v7M346.0 377.5h7M349.5 374.0v7M339.0 374.5h7M342.5 371.0v7M341.0 377.5h7M344.5 374.0v7M342.0 376.5h7M345.5 373.0v7M341.0 376.5h7M344.5 373.0v7M340.0 379.5h7M343.5 376.0v7M346.0 375.5h7M349.5 372.0v7M375.0 380.5h7M378.5 377.0v7M372.0 377.5h7M375.5 374.0v7M376.0 382.5h7M379.5 379.0v7M372.0 381.5h7M375.5 378.0v7M385.0 378.5h7M388.5 375.0v7M386.0 377.5h7M389.5 374.0v7M377.0 383.5h7M380.5 380.0v7M370.0 377.5h7M373.5 374.0v7M383.0 379.5h7M386.5 376.0v7M384.0 379.5h7M387.5 376.0v7M383.0 381.5h7M386.5 378.0v7M382.0 379.5h7M385.5 376.0v7M390.0 377.5h7M393.5 374.0v7M374.0 377.5h7M377.5 374.0v7M379.0 374.5h7M382.5 371.0v7M376.0 377.5h7M379.5 374.0v7M370.0 378.5h7M373.5 375.0v7M386.0 381.5h7M389.5 378.0v7M372.0 376.5h7M375.5 373.0v7M381.0 376.5h7M384.5 373.0v7M379.0 382.5h7M382.5 379.0v7M384.0 381.5h7M387.5 378.0v7M390.0 378.5h7M393.5 375.0v7M371.0 377.5h7M374.5 374.0v7M376.0 374.5h7M379.5 371.0v7M383.0 378.5h7M386.5 375.0v7M373.0 380.5h7M376.5 377.0v7M379.0 376.5h7M382.5 373.0v7M387.0 375.5h7M390.5 372.0v7M370.0 380.5h7M373.5 377.0v7M383.0 375.5h7M386.5 372.0v7M388.0 378.5h7M391.5 375.0v7M382.0 375.5h7M385.5 372.0v7M382.0 382.5h7M385.5 379.0v7M389.0 377.5h7M392.5 374.0v7M371.0 376.5h7M374.5 373.0v7M383.0 376.5h7M386.5 373.0v7M372.0 380.5h7M375.5 377.0v7M380.0 379.5h7M383.5 376.0v7M388.0 376.5h7M391.5 373.0v7M376.0 381.5h7M379.5 378.0v7M378.0 374.5h7M381.5 371.0v7M374.0 378.5h7M377.5 375.0v7M381.0 374.5h7M384.5 371.0v7M376.0 376.5h7M379.5 373.0v7M383.0 377.5h7M386.5 374.0v7M381.0 375.5h7M384.5 372.0v7M385.0 381.5h7M388.5 378.0v7M377.0 373.5h7M380.5 370.0v7M374.0 380.5h7M377.5 377.0v7M371.0 375.5h7M374.5 372.0v7M375.0 378.5h7M378.5 375.0v7M380.0 382.5h7M383.5 379.0v7M376.0 375.5h7M379.5 372.0v7M373.0 378.5h7M376.5 375.0v7M381.0 383.5h7M384.5 380.0v7M384.0 377.5h7M387.5 374.0v7M374.0 382.5h7M377.5 379.0v7M387.0 377.5h7M390.5 374.0v7M373.0 381.5h7M376.5 378.0v7M379.0 380.5h7M382.5 377.0v7M371.0 381.5h7M374.5 378.0v7M386.0 382.5h7M389.5 379.0v7M385.0 380.5h7M388.5 377.0v7M380.0 377.5h7M383.5 374.0v7M368.0 351.5h7M371.5 348.0v7M364.0 360.5h7M367.5 357.0v7M365.0 359.5h7M368.5 356.0v7M366.0 368.5h7M369.5 365.0v7M370.0 356.5h7M373.5 353.0v7M366.0 364.5h7M369.5 361.0v7M367.0 363.5h7M370.5 360.0v7M369.0 364.5h7M372.5 361.0v7M365.0 366.5h7M368.5 363.0v7M367.0 366.5h7M370.5 363.0v7M367.0 365.5h7M370.5 362.0v7M368.0 370.5h7M371.5 367.0v7M369.0 360.5h7M372.5 357.0v7M368.0 366.5h7M371.5 363.0v7M371.0 358.5h7M374.5 355.0v7M370.0 361.5h7M373.5 358.0v7M370.0 366.5h7M373.5 363.0v7M365.0 356.5h7M368.5 353.0v7M366.0 350.5h7M369.5 347.0v7M371.0 347.5h7M374.5 344.0v7M367.0 349.5h7M370.5 346.0v7M371.0 349.5h7M374.5 346.0v7M373.0 349.5h7M376.5 346.0v7M366.0 352.5h7M369.5 349.0v7M367.0 346.5h7M370.5 343.0v7M365.0 347.5h7M368.5 344.0v7M368.0 346.5h7M371.5 343.0v7M368.0 348.5h7M371.5 345.0v7M367.0 347.5h7M370.5 344.0v7M370.0 348.5h7M373.5 345.0v7M362.0 349.5h7M365.5 346.0v7M390.0 362.5h7M393.5 359.0v7M391.0 359.5h7M394.5 356.0v7M394.0 357.5h7M397.5 354.0v7M392.0 353.5h7M395.5 350.0v7M389.0 362.5h7M392.5 359.0v7M393.0 367.5h7M396.5 364.0v7M391.0 352.5h7M394.5 349.0v7M391.0 358.5h7M394.5 355.0v7M393.0 360.5h7M396.5 357.0v7M392.0 370.5h7M395.5 367.0v7M392.0 368.5h7M395.5 365.0v7M392.0 364.5h7M395.5 361.0v7M390.0 357.5h7M393.5 354.0v7M393.0 355.5h7M396.5 352.0v7M391.0 360.5h7M394.5 357.0v7M391.0 361.5h7M394.5 358.0v7M390.0 368.5h7M393.5 365.0v7M392.0 367.5h7M395.5 364.0v7M394.0 365.5h7M397.5 362.0v7M393.0 354.5h7M396.5 351.0v7M393.0 369.5h7M396.5 366.0v7M394.0 363.5h7M397.5 360.0v7M393.0 350.5h7M396.5 347.0v7M393.0 352.5h7M396.5 349.0v7M387.0 351.5h7M390.5 348.0v7M395.0 349.5h7M398.5 346.0v7M392.0 351.5h7M395.5 348.0v7M388.0 351.5h7M391.5 348.0v7M384.0 373.5h7M387.5 370.0v7M384.0 371.5h7M387.5 368.0v7M387.0 371.5h7M390.5 368.0v7M381.0 370.5h7M384.5 367.0v7M388.0 372.5h7M391.5 369.0v7M382.0 371.5h7M385.5 368.0v7M386.0 371.5h7M389.5 368.0v7M390.0 369.5h7M393.5 366.0v7M388.0 370.5h7M391.5 367.0v7M383.0 369.5h7M386.5 366.0v7M387.0 367.5h7M390.5 364.0v7M385.0 373.5h7M388.5 370.0v7M384.0 369.5h7M387.5 366.0v7M401.0 377.5h7M404.5 374.0v7M400.0 382.5h7M403.5 379.0v7M400.0 377.5h7M403.5 374.0v7M401.0 380.5h7M404.5 377.0v7M403.0 385.5h7M406.5 382.0v7M404.0 381.5h7M407.5 378.0v7M402.0 376.5h7M405.5 373.0v7M404.0 379.5h7M407.5 376.0v7M403.0 383.5h7M406.5 380.0v7M403.0 379.5h7M406.5 376.0v7M400.0 380.5h7M403.5 377.0v7M400.0 378.5h7M403.5 375.0v7M402.0 378.5h7M405.5 375.0v7M403.0 382.5h7M406.5 379.0v7M328.0 348.5h7M331.5 345.0v7M333.0 346.5h7M336.5 343.0v7M336.0 350.5h7M339.5 347.0v7M338.0 352.5h7M341.5 349.0v7M326.0 355.5h7M329.5 352.0v7M331.0 357.5h7M334.5 354.0v7M335.0 358.5h7M338.5 355.0v7M327.0 361.5h7M330.5 358.0v7M331.0 363.5h7M334.5 360.0v7M335.0 365.5h7M338.5 362.0v7M326.0 366.5h7M329.5 363.0v7M330.0 368.5h7M333.5 365.0v7M349.0 350.5h7M352.5 347.0v7M354.0 351.5h7M357.5 348.0v7M357.0 353.5h7M360.5 350.0v7M350.0 361.5h7M353.5 358.0v7M345.0 354.5h7M348.5 351.0v7M358.0 364.5h7M361.5 361.0v7M355.0 365.5h7M358.5 362.0v7M353.0 358.5h7M356.5 355.0v7M375.0 351.5h7M378.5 348.0v7M380.0 356.5h7M383.5 353.0v7M383.0 357.5h7M386.5 354.0v7M376.0 363.5h7M379.5 360.0v7M380.0 365.5h7M383.5 362.0v7M383.0 362.5h7M386.5 359.0v7M375.0 368.5h7M378.5 365.0v7M386.0 366.5h7M389.5 363.0v7M400.0 357.5h7M403.5 354.0v7M403.0 358.5h7M406.5 355.0v7M398.0 363.5h7M401.5 360.0v7M401.0 365.5h7M404.5 362.0v7M404.0 368.5h7M407.5 365.0v7M400.0 371.5h7M403.5 368.0v7M403.0 373.5h7M406.5 370.0v7M398.0 360.5h7M401.5 357.0v7M337.0 378.5h7M340.5 375.0v7M340.0 382.5h7M343.5 379.0v7M365.0 376.5h7M368.5 373.0v7M365.0 382.5h7M368.5 379.0v7M395.0 382.5h7M398.5 379.0v7M394.0 375.5h7M397.5 372.0v7M377.0 385.5h7M380.5 382.0v7M375.0 384.5h7M378.5 381.0v7M347.0 383.5h7M350.5 380.0v7M362.0 383.5h7M365.5 380.0v7M413.0 375.5h7M416.5 372.0v7M418.0 374.5h7M421.5 371.0v7M411.0 378.5h7M414.5 375.0v7M413.0 381.5h7M416.5 378.0v7M418.0 382.5h7M421.5 379.0v7M421.0 377.5h7M424.5 374.0v7M419.0 381.5h7M422.5 378.0v7M422.0 380.5h7M425.5 377.0v7M407.0 382.5h7M410.5 379.0v7M421.0 379.5h7M424.5 376.0v7M420.0 374.5h7M423.5 371.0v7M412.0 383.5h7M415.5 380.0v7M405.0 380.5h7M408.5 377.0v7M425.0 379.5h7M428.5 376.0v7M408.0 378.5h7M411.5 375.0v7M414.0 383.5h7M417.5 380.0v7M418.0 375.5h7M421.5 372.0v7M410.0 381.5h7M413.5 378.0v7M410.0 379.5h7M413.5 376.0v7M409.0 383.5h7M412.5 380.0v7M424.0 381.5h7M427.5 378.0v7M416.0 375.5h7M419.5 372.0v7M406.0 379.5h7M409.5 376.0v7M420.0 377.5h7M423.5 374.0v7M421.0 375.5h7M424.5 372.0v7M420.0 382.5h7M423.5 379.0v7M423.0 377.5h7M426.5 374.0v7M415.0 380.5h7M418.5 377.0v7M406.0 377.5h7M409.5 374.0v7M409.0 382.5h7M412.5 379.0v7M417.0 378.5h7M420.5 375.0v7M416.0 376.5h7M419.5 373.0v7M415.0 374.5h7M418.5 371.0v7M410.0 380.5h7M413.5 377.0v7M413.0 384.5h7M416.5 381.0v7M410.0 375.5h7M413.5 372.0v7M410.0 377.5h7M413.5 374.0v7M423.0 378.5h7M426.5 375.0v7M421.0 381.5h7M424.5 378.0v7M416.0 379.5h7M419.5 376.0v7M408.0 380.5h7M411.5 377.0v7M414.0 378.5h7M417.5 375.0v7M423.0 382.5h7M426.5 379.0v7M409.0 375.5h7M412.5 372.0v7M419.0 377.5h7M422.5 374.0v7M421.0 382.5h7M424.5 379.0v7M420.0 381.5h7M423.5 378.0v7M407.0 381.5h7M410.5 378.0v7M421.0 378.5h7M424.5 375.0v7M420.0 375.5h7M423.5 372.0v7M425.0 377.5h7M428.5 374.0v7M415.0 379.5h7M418.5 376.0v7M420.0 378.5h7M423.5 375.0v7M418.0 379.5h7M421.5 376.0v7M412.0 378.5h7M415.5 375.0v7M421.0 347.5h7M424.5 344.0v7M427.0 349.5h7M430.5 346.0v7M425.0 345.5h7M428.5 342.0v7M425.0 349.5h7M428.5 346.0v7M427.0 347.5h7M430.5 344.0v7M429.0 346.5h7M432.5 343.0v7M429.0 348.5h7M432.5 345.0v7M430.0 349.5h7M433.5 346.0v7M424.0 349.5h7M427.5 346.0v7M423.0 349.5h7M426.5 346.0v7M426.0 346.5h7M429.5 343.0v7M423.0 351.5h7M426.5 348.0v7M424.0 351.5h7M427.5 348.0v7M427.0 351.5h7M430.5 348.0v7M433.0 362.5h7M436.5 359.0v7M426.0 360.5h7M429.5 357.0v7M431.0 364.5h7M434.5 361.0v7M429.0 355.5h7M432.5 352.0v7M429.0 358.5h7M432.5 355.0v7M428.0 363.5h7M431.5 360.0v7M430.0 362.5h7M433.5 359.0v7M430.0 367.5h7M433.5 364.0v7M428.0 362.5h7M431.5 359.0v7M431.0 362.5h7M434.5 359.0v7M428.0 355.5h7M431.5 352.0v7M433.0 361.5h7M436.5 358.0v7M426.0 358.5h7M429.5 355.0v7M428.0 354.5h7M431.5 351.0v7M431.0 367.5h7M434.5 364.0v7M429.0 356.5h7M432.5 353.0v7M430.0 359.5h7M433.5 356.0v7M427.0 358.5h7M430.5 355.0v7M434.0 372.5h7M437.5 369.0v7M434.0 373.5h7M437.5 370.0v7M434.0 371.5h7M437.5 368.0v7M434.0 374.5h7M437.5 371.0v7M434.0 375.5h7M437.5 372.0v7M436.0 369.5h7M439.5 366.0v7M434.0 368.5h7M437.5 365.0v7M450.0 378.5h7M453.5 375.0v7M438.0 381.5h7M441.5 378.0v7M445.0 377.5h7M448.5 374.0v7M437.0 383.5h7M440.5 380.0v7M435.0 382.5h7M438.5 379.0v7M435.0 379.5h7M438.5 376.0v7M442.0 379.5h7M445.5 376.0v7M448.0 376.5h7M451.5 373.0v7M433.0 379.5h7M436.5 376.0v7M440.0 382.5h7M443.5 379.0v7M448.0 383.5h7M451.5 380.0v7M441.0 382.5h7M444.5 379.0v7M448.0 378.5h7M451.5 375.0v7M445.0 379.5h7M448.5 376.0v7M441.0 379.5h7M444.5 376.0v7M444.0 377.5h7M447.5 374.0v7M433.0 378.5h7M436.5 375.0v7M438.0 378.5h7M441.5 375.0v7M436.0 376.5h7M439.5 373.0v7M433.0 380.5h7M436.5 377.0v7M445.0 380.5h7M448.5 377.0v7M440.0 375.5h7M443.5 372.0v7M447.0 377.5h7M450.5 374.0v7M444.0 384.5h7M447.5 381.0v7M450.0 377.5h7M453.5 374.0v7M443.0 381.5h7M446.5 378.0v7M438.0 377.5h7M441.5 374.0v7M445.0 375.5h7M448.5 372.0v7M441.0 381.5h7M444.5 378.0v7M444.0 383.5h7M447.5 380.0v7M446.0 377.5h7M449.5 374.0v7M449.0 382.5h7M452.5 379.0v7M446.0 380.5h7M449.5 377.0v7M441.0 378.5h7M444.5 375.0v7M440.0 383.5h7M443.5 380.0v7M440.0 380.5h7M443.5 377.0v7M447.0 375.5h7M450.5 372.0v7M447.0 382.5h7M450.5 379.0v7M439.0 383.5h7M442.5 380.0v7M440.0 377.5h7M443.5 374.0v7M443.0 376.5h7M446.5 373.0v7M437.0 380.5h7M440.5 377.0v7M442.0 383.5h7M445.5 380.0v7M440.0 379.5h7M443.5 376.0v7M443.0 379.5h7M446.5 376.0v7M434.0 379.5h7M437.5 376.0v7M436.0 379.5h7M439.5 376.0v7M445.0 381.5h7M448.5 378.0v7M437.0 382.5h7M440.5 379.0v7M443.0 380.5h7M446.5 377.0v7M440.0 378.5h7M443.5 375.0v7M460.0 362.5h7M463.5 359.0v7M457.0 359.5h7M460.5 356.0v7M462.0 358.5h7M465.5 355.0v7M454.0 359.5h7M457.5 356.0v7M456.0 354.5h7M459.5 351.0v7M463.0 358.5h7M466.5 355.0v7M462.0 357.5h7M465.5 354.0v7M453.0 361.5h7M456.5 358.0v7M459.0 359.5h7M462.5 356.0v7M457.0 355.5h7M460.5 352.0v7M457.0 357.5h7M460.5 354.0v7M455.0 358.5h7M458.5 355.0v7M458.0 356.5h7M461.5 353.0v7M455.0 368.5h7M458.5 365.0v7M461.0 365.5h7M464.5 362.0v7M456.0 370.5h7M459.5 367.0v7M462.0 370.5h7M465.5 367.0v7M459.0 367.5h7M462.5 364.0v7M456.0 369.5h7M459.5 366.0v7M458.0 368.5h7M461.5 365.0v7M459.0 365.5h7M462.5 362.0v7M462.0 364.5h7M465.5 361.0v7M459.0 371.5h7M462.5 368.0v7M459.0 364.5h7M462.5 361.0v7M457.0 370.5h7M460.5 367.0v7M456.0 367.5h7M459.5 364.0v7M457.0 363.5h7M460.5 360.0v7M460.0 363.5h7M463.5 360.0v7M468.0 381.5h7M471.5 378.0v7M480.0 376.5h7M483.5 373.0v7M474.0 375.5h7M477.5 372.0v7M470.0 381.5h7M473.5 378.0v7M476.0 381.5h7M479.5 378.0v7M465.0 382.5h7M468.5 379.0v7M478.0 380.5h7M481.5 377.0v7M471.0 376.5h7M474.5 373.0v7M470.0 380.5h7M473.5 377.0v7M469.0 380.5h7M472.5 377.0v7M472.0 383.5h7M475.5 380.0v7M477.0 381.5h7M480.5 378.0v7M466.0 380.5h7M469.5 377.0v7M465.0 379.5h7M468.5 376.0v7M472.0 374.5h7M475.5 371.0v7M470.0 379.5h7M473.5 376.0v7M463.0 381.5h7M466.5 378.0v7M480.0 379.5h7M483.5 376.0v7M467.0 381.5h7M470.5 378.0v7M475.0 374.5h7M478.5 371.0v7M463.0 375.5h7M466.5 372.0v7M466.0 375.5h7M469.5 372.0v7M469.0 377.5h7M472.5 374.0v7M480.0 378.5h7M483.5 375.0v7M465.0 375.5h7M468.5 372.0v7M471.0 373.5h7M474.5 370.0v7M463.0 380.5h7M466.5 377.0v7M467.0 378.5h7M470.5 375.0v7M473.0 376.5h7M476.5 373.0v7M472.0 379.5h7M475.5 376.0v7M464.0 376.5h7M467.5 373.0v7M477.0 379.5h7M480.5 376.0v7M472.0 377.5h7M475.5 374.0v7M471.0 382.5h7M474.5 379.0v7M474.0 382.5h7M477.5 379.0v7M470.0 376.5h7M473.5 373.0v7M475.0 380.5h7M478.5 377.0v7M478.0 375.5h7M481.5 372.0v7M479.0 376.5h7M482.5 373.0v7M466.0 379.5h7M469.5 376.0v7M466.0 376.5h7M469.5 373.0v7M477.0 375.5h7M480.5 372.0v7M466.0 377.5h7M469.5 374.0v7M474.0 378.5h7M477.5 375.0v7M468.0 380.5h7M471.5 377.0v7M475.0 382.5h7M478.5 379.0v7M465.0 374.5h7M468.5 371.0v7M465.0 380.5h7M468.5 377.0v7M476.0 376.5h7M479.5 373.0v7M471.0 381.5h7M474.5 378.0v7M477.0 374.5h7M480.5 371.0v7M473.0 380.5h7M476.5 377.0v7M482.0 355.5h7M485.5 352.0v7M484.0 357.5h7M487.5 354.0v7M483.0 357.5h7M486.5 354.0v7M483.0 358.5h7M486.5 355.0v7M483.0 359.5h7M486.5 356.0v7M483.0 361.5h7M486.5 358.0v7M438.0 387.5h7M441.5 384.0v7M406.0 357.5h7M409.5 354.0v7M408.0 363.5h7M411.5 360.0v7M406.0 366.5h7M409.5 363.0v7M410.0 370.5h7M413.5 367.0v7M405.0 373.5h7M408.5 370.0v7M410.0 361.5h7M413.5 358.0v7M413.0 351.5h7M416.5 348.0v7M415.0 353.5h7M418.5 350.0v7M417.0 355.5h7M420.5 352.0v7M418.0 360.5h7M421.5 357.0v7M420.0 358.5h7M423.5 355.0v7M435.0 346.5h7M438.5 343.0v7M439.0 351.5h7M442.5 348.0v7M444.0 348.5h7M447.5 345.0v7M448.0 349.5h7M451.5 346.0v7M455.0 346.5h7M458.5 343.0v7M457.0 346.5h7M460.5 343.0v7M445.0 358.5h7M448.5 355.0v7M440.0 363.5h7M443.5 360.0v7M438.0 365.5h7M441.5 362.0v7M441.0 370.5h7M444.5 367.0v7M427.0 370.5h7M430.5 367.0v7M429.0 366.5h7M432.5 363.0v7M465.0 352.5h7M468.5 349.0v7M473.0 356.5h7M476.5 353.0v7M468.0 365.5h7M471.5 362.0v7M475.0 366.5h7M478.5 363.0v7M478.0 365.5h7M481.5 362.0v7M480.0 368.5h7M483.5 365.0v7M471.0 361.5h7M474.5 358.0v7M466.0 358.5h7M469.5 355.0v7M480.0 349.5h7M483.5 346.0v7M483.0 348.5h7M486.5 345.0v7M478.0 373.5h7M481.5 370.0v7M482.0 376.5h7M485.5 373.0v7M429.0 379.5h7M432.5 376.0v7M455.0 380.5h7M458.5 377.0v7M456.0 376.5h7M459.5 373.0v7M453.0 383.5h7M456.5 380.0v7M461.0 383.5h7M464.5 380.0v7M482.0 381.5h7M485.5 378.0v7M488.0 361.5h7M491.5 358.0v7M488.0 358.5h7M491.5 355.0v7M485.0 360.5h7M488.5 357.0v7M487.0 360.5h7M490.5 357.0v7M488.0 356.5h7M491.5 353.0v7M485.0 359.5h7M488.5 356.0v7M487.0 354.5h7M490.5 351.0v7M487.0 355.5h7M490.5 352.0v7M489.0 369.5h7M492.5 366.0v7M495.0 371.5h7M498.5 368.0v7M489.0 368.5h7M492.5 365.0v7M492.0 370.5h7M495.5 367.0v7M493.0 367.5h7M496.5 364.0v7M490.0 368.5h7M493.5 365.0v7M490.0 364.5h7M493.5 361.0v7M487.0 368.5h7M490.5 365.0v7M491.0 364.5h7M494.5 361.0v7M490.0 369.5h7M493.5 366.0v7M489.0 371.5h7M492.5 368.0v7M491.0 365.5h7M494.5 362.0v7M500.0 373.5h7M503.5 370.0v7M509.0 380.5h7M512.5 377.0v7M498.0 376.5h7M501.5 373.0v7M510.0 378.5h7M513.5 375.0v7M505.0 376.5h7M508.5 373.0v7M512.0 379.5h7M515.5 376.0v7M510.0 381.5h7M513.5 378.0v7M509.0 377.5h7M512.5 374.0v7M505.0 380.5h7M508.5 377.0v7M499.0 378.5h7M502.5 375.0v7M492.0 376.5h7M495.5 373.0v7M496.0 374.5h7M499.5 371.0v7M497.0 378.5h7M500.5 375.0v7M503.0 377.5h7M506.5 374.0v7M499.0 382.5h7M502.5 379.0v7M499.0 379.5h7M502.5 376.0v7M495.0 374.5h7M498.5 371.0v7M493.0 380.5h7M496.5 377.0v7M504.0 375.5h7M507.5 372.0v7M501.0 381.5h7M504.5 378.0v7M493.0 379.5h7M496.5 376.0v7M504.0 374.5h7M507.5 371.0v7M490.0 377.5h7M493.5 374.0v7M506.0 379.5h7M509.5 376.0v7M508.0 377.5h7M511.5 374.0v7M502.0 373.5h7M505.5 370.0v7M496.0 375.5h7M499.5 372.0v7M507.0 378.5h7M510.5 375.0v7M496.0 379.5h7M499.5 376.0v7M509.0 374.5h7M512.5 371.0v7M503.0 378.5h7M506.5 375.0v7M509.0 376.5h7M512.5 373.0v7M498.0 381.5h7M501.5 378.0v7M502.0 378.5h7M505.5 375.0v7M499.0 373.5h7M502.5 370.0v7M503.0 381.5h7M506.5 378.0v7M500.0 375.5h7M503.5 372.0v7M501.0 379.5h7M504.5 376.0v7M497.0 376.5h7M500.5 373.0v7M497.0 379.5h7M500.5 376.0v7M508.0 381.5h7M511.5 378.0v7M500.0 377.5h7M503.5 374.0v7M502.0 374.5h7M505.5 371.0v7M492.0 380.5h7M495.5 377.0v7M496.0 378.5h7M499.5 375.0v7M511.0 379.5h7M514.5 376.0v7M505.0 374.5h7M508.5 371.0v7M511.0 380.5h7M514.5 377.0v7M494.0 381.5h7M497.5 378.0v7M493.0 381.5h7M496.5 378.0v7M502.0 382.5h7M505.5 379.0v7M515.0 362.5h7M518.5 359.0v7M516.0 363.5h7M519.5 360.0v7M517.0 358.5h7M520.5 355.0v7M516.0 366.5h7M519.5 363.0v7M517.0 365.5h7M520.5 362.0v7M518.0 361.5h7M521.5 358.0v7M520.0 360.5h7M523.5 357.0v7M516.0 358.5h7M519.5 355.0v7M518.0 357.5h7M521.5 354.0v7M516.0 356.5h7M519.5 353.0v7M515.0 360.5h7M518.5 357.0v7M517.0 357.5h7M520.5 354.0v7M518.0 364.5h7M521.5 361.0v7M523.0 368.5h7M526.5 365.0v7M522.0 376.5h7M525.5 373.0v7M520.0 369.5h7M523.5 366.0v7M524.0 374.5h7M527.5 371.0v7M524.0 371.5h7M527.5 368.0v7M521.0 373.5h7M524.5 370.0v7M521.0 367.5h7M524.5 364.0v7M522.0 373.5h7M525.5 370.0v7M523.0 372.5h7M526.5 369.0v7M524.0 373.5h7M527.5 370.0v7M521.0 369.5h7M524.5 366.0v7M523.0 375.5h7M526.5 372.0v7M535.0 377.5h7M538.5 374.0v7M539.0 380.5h7M542.5 377.0v7M533.0 378.5h7M536.5 375.0v7M528.0 376.5h7M531.5 373.0v7M536.0 374.5h7M539.5 371.0v7M532.0 383.5h7M535.5 380.0v7M525.0 376.5h7M528.5 373.0v7M532.0 380.5h7M535.5 377.0v7M533.0 375.5h7M536.5 372.0v7M530.0 375.5h7M533.5 372.0v7M531.0 376.5h7M534.5 373.0v7M521.0 376.5h7M524.5 373.0v7M521.0 378.5h7M524.5 375.0v7M528.0 375.5h7M531.5 372.0v7M534.0 375.5h7M537.5 372.0v7M531.0 378.5h7M534.5 375.0v7M528.0 381.5h7M531.5 378.0v7M539.0 378.5h7M542.5 375.0v7M536.0 378.5h7M539.5 375.0v7M530.0 378.5h7M533.5 375.0v7M525.0 380.5h7M528.5 377.0v7M532.0 377.5h7M535.5 374.0v7M533.0 376.5h7M536.5 373.0v7M535.0 381.5h7M538.5 378.0v7M527.0 377.5h7M530.5 374.0v7M526.0 375.5h7M529.5 372.0v7M524.0 376.5h7M527.5 373.0v7M535.0 379.5h7M538.5 376.0v7M529.0 382.5h7M532.5 379.0v7M529.0 377.5h7M532.5 374.0v7M534.0 381.5h7M537.5 378.0v7M525.0 379.5h7M528.5 376.0v7M530.0 376.5h7M533.5 373.0v7M535.0 374.5h7M538.5 371.0v7M539.0 379.5h7M542.5 376.0v7M534.0 377.5h7M537.5 374.0v7M537.0 380.5h7M540.5 377.0v7M526.0 382.5h7M529.5 379.0v7M539.0 376.5h7M542.5 373.0v7M534.0 373.5h7M537.5 370.0v7M526.0 379.5h7M529.5 376.0v7M532.0 376.5h7M535.5 373.0v7M524.0 378.5h7M527.5 375.0v7M527.0 382.5h7M530.5 379.0v7M528.0 379.5h7M531.5 376.0v7M527.0 379.5h7M530.5 376.0v7M536.0 375.5h7M539.5 372.0v7M538.0 376.5h7M541.5 373.0v7M533.0 380.5h7M536.5 377.0v7M535.0 376.5h7M538.5 373.0v7M534.0 374.5h7M537.5 371.0v7M539.0 354.5h7M542.5 351.0v7M539.0 360.5h7M542.5 357.0v7M542.0 360.5h7M545.5 357.0v7M543.0 358.5h7M546.5 355.0v7M540.0 354.5h7M543.5 351.0v7M539.0 352.5h7M542.5 349.0v7M541.0 353.5h7M544.5 350.0v7M540.0 353.5h7M543.5 350.0v7M538.0 358.5h7M541.5 355.0v7M542.0 359.5h7M545.5 356.0v7M541.0 361.5h7M544.5 358.0v7M539.0 353.5h7M542.5 350.0v7M539.0 356.5h7M542.5 353.0v7M544.0 372.5h7M547.5 369.0v7M549.0 372.5h7M552.5 369.0v7M546.0 366.5h7M549.5 363.0v7M547.0 371.5h7M550.5 368.0v7M544.0 368.5h7M547.5 365.0v7M543.0 369.5h7M546.5 366.0v7M547.0 373.5h7M550.5 370.0v7M547.0 369.5h7M550.5 366.0v7M549.0 370.5h7M552.5 367.0v7M543.0 366.5h7M546.5 363.0v7M543.0 364.5h7M546.5 361.0v7M542.0 365.5h7M545.5 362.0v7M546.0 368.5h7M549.5 365.0v7M545.0 368.5h7M548.5 365.0v7M549.0 367.5h7M552.5 364.0v7M554.0 376.5h7M557.5 373.0v7M552.0 374.5h7M555.5 371.0v7M550.0 377.5h7M553.5 374.0v7M552.0 383.5h7M555.5 380.0v7M551.0 381.5h7M554.5 378.0v7M551.0 374.5h7M554.5 371.0v7M555.0 376.5h7M558.5 373.0v7M552.0 379.5h7M555.5 376.0v7M557.0 377.5h7M560.5 374.0v7M550.0 380.5h7M553.5 377.0v7M553.0 382.5h7M556.5 379.0v7M553.0 381.5h7M556.5 378.0v7M556.0 378.5h7M559.5 375.0v7M551.0 373.5h7M554.5 370.0v7M549.0 375.5h7M552.5 372.0v7M550.0 382.5h7M553.5 379.0v7M554.0 382.5h7M557.5 379.0v7M554.0 379.5h7M557.5 376.0v7M555.0 375.5h7M558.5 372.0v7M550.0 381.5h7M553.5 378.0v7M553.0 377.5h7M556.5 374.0v7M549.0 382.5h7M552.5 379.0v7M550.0 378.5h7M553.5 375.0v7M555.0 379.5h7M558.5 376.0v7M556.0 376.5h7M559.5 373.0v7M556.0 380.5h7M559.5 377.0v7M548.0 378.5h7M551.5 375.0v7M490.0 350.5h7M493.5 347.0v7M494.0 358.5h7M497.5 355.0v7M498.0 361.5h7M501.5 358.0v7M503.0 354.5h7M506.5 351.0v7M505.0 352.5h7M508.5 349.0v7M501.0 363.5h7M504.5 360.0v7M506.0 363.5h7M509.5 360.0v7M496.0 365.5h7M499.5 362.0v7M510.0 360.5h7M513.5 357.0v7M511.0 357.5h7M514.5 354.0v7M507.0 368.5h7M510.5 365.0v7M513.0 348.5h7M516.5 345.0v7M515.0 349.5h7M518.5 346.0v7M526.0 348.5h7M529.5 345.0v7M528.0 349.5h7M531.5 346.0v7M523.0 353.5h7M526.5 350.0v7M525.0 356.5h7M528.5 353.0v7M534.0 347.5h7M537.5 344.0v7M533.0 356.5h7M536.5 353.0v7M535.0 368.5h7M538.5 365.0v7M529.0 370.5h7M532.5 367.0v7M543.0 348.5h7M546.5 345.0v7M545.0 349.5h7M548.5 346.0v7M555.0 351.5h7M558.5 348.0v7M555.0 354.5h7M558.5 351.0v7M555.0 357.5h7M558.5 354.0v7M549.0 361.5h7M552.5 358.0v7M550.0 363.5h7M553.5 360.0v7M558.0 368.5h7M561.5 365.0v7M557.0 375.5h7M560.5 372.0v7M559.0 380.5h7M562.5 377.0v7M493.0 386.5h7M496.5 383.0v7M501.0 385.5h7M504.5 382.0v7M511.0 385.5h7M514.5 382.0v7M536.0 386.5h7M539.5 383.0v7M522.0 385.5h7M525.5 382.0v7M551.0 385.5h7M554.5 382.0v7M571 57.5h7M574.5 54v7" stroke="#9400d3" stroke-width="1" fill="none"/>
<path d="M91.5 431.5v-4.5M91.5 45.5v4.5M143.5 431.5v-4.5M143.5 45.5v4.5M195.5 431.5v-4.5M195.5 45.5v4.5M247.5 431.5v-4.5M247.5 45.5v4.5M299.5 431.5v-4.5M299.5 45.5v4.5M352.5 431.5v-4.5M352.5 45.5v4.5M404.5 431.5v-4.5M404.5 45.5v4.5M456.5 431.5v-4.5M456.5 45.5v4.5M508.5 431.5v-4.5M508.5 45.5v4.5M560.5 431.5v-4.5M560.5 45.5v4.5M612.5 431.5v-4.5M612.5 45.5v4.5M91.5 431.5h4.5M612.5 431.5h-4.5M91.5 385.5h4.5M612.5 385.5h-4.5M91.5 339.5h4.5M612.5 339.5h-4.5M91.5 294.5h4.5M612.5 294.5h-4.5M91.5 248.5h4.5M612.5 248.5h-4.5M91.5 202.5h4.5M612.5 202.5h-4.5M91.5 156.5h4.5M612.5 156.5h-4.5M91.5 111.5h4.5M612.5 111.5h-4.5M91.5 65.5h4.5M612.5 65.5h-4.5" stroke="#000" stroke-width="1" fill="none"/>
<rect x="91.5" y="45.5" width="521.0" height="386.0" fill="none" stroke="#000" stroke-width="1"/>
<text x="92.3" y="449.5" text-anchor="middle" textLength="8.9">0</text>
<text x="144.4" y="449.5" text-anchor="middle" textLength="27.0">200</text>
<text x="196.5" y="449.5" text-anchor="middle" textLength="27.0">400</text>
<text x="248.6" y="449.5" text-anchor="middle" textLength="27.0">600</text>
<text x="300.7" y="449.5" text-anchor="middle" textLength="27.0">800</text>
<text x="354.0" y="449.5" text-anchor="middle" textLength="36.0">1000</text>
<text x="406.1" y="449.5" text-anchor="middle" textLength="36.0">1200</text>
<text x="458.2" y="449.5" text-anchor="middle" textLength="36.0">1400</text>
<text x="510.3" y="449.5" text-anchor="middle" textLength="36.0">1600</text>
<text x="562.4" y="449.5" text-anchor="middle" textLength="36.0">1800</text>
<text x="613.3" y="449.5" text-anchor="middle" textLength="36.0">2000</text>
<text x="82.4" y="435.0" text-anchor="end" textLength="8.9">0</text>
<text x="82.4" y="389.0" text-anchor="end" textLength="36.0">2000</text>
<text x="82.4" y="343.0" text-anchor="end" textLength="36.0">4000</text>
<text x="82.4" y="298.0" text-anchor="end" textLength="36.0">6000</text>
<text x="82.4" y="252.0" text-anchor="end" textLength="36.0">8000</text>
<text x="82.4" y="206.0" text-anchor="end" textLength="45.0">10000</text>
<text x="82.4" y="160.0" text-anchor="end" textLength="45.0">12000</text>
<text x="82.4" y="115.0" text-anchor="end" textLength="45.0">14000</text>
<text x="82.4" y="69.0" text-anchor="end" textLength="45.0">16000</text>
<text x="207.8" y="26" textLength="285.3">maxDeleteUsecs vs Time for qp1000.L6</text>
<text x="351" y="472" text-anchor="middle" textLength="52.8">Time(s)</text>
<text transform="translate(17.1,238.4) rotate(-90)" text-anchor="middle" textLength="122">maxDeleteUsecs</text>
<text x="544.8" y="61" text-anchor="end" textLength="213.8">my8406<tspan dy="4" font-size="12.8px">r</tspan><tspan dy="-4">el</tspan><tspan dy="4" font-size="12.8px">o</tspan><tspan dy="-4">2nofp.cz12a</tspan><tspan dy="4" font-size="12.8px">c</tspan><tspan dy="-4">24r64</tspan></text>
</svg>
</body></html>
